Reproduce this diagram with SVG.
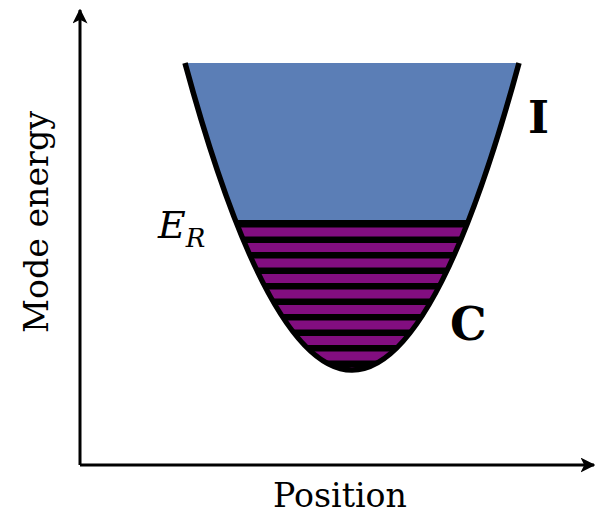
<svg xmlns="http://www.w3.org/2000/svg" width="595" height="514" viewBox="0 0 595 514">
<style>
.ax{stroke:#000;stroke-width:3;fill:none}
text{font-family:"DejaVu Serif",serif;fill:#000}
</style>
<defs>
<marker id="arr" viewBox="0 0 10 10" refX="9" refY="5" markerWidth="5" markerHeight="5" orient="auto" markerUnits="strokeWidth">
<path d="M0,0 L10,5 L0,10 L2.5,5 Z" fill="#000"/>
</marker>
<clipPath id="well"><path d="M185,63 Q352,677 519,63 Z"/></clipPath>
</defs>
<g id="connectors">
<line class="ax" x1="80" y1="465" x2="80" y2="10" marker-end="url(#arr)"/>
<line class="ax" x1="80" y1="465" x2="594" y2="465" marker-end="url(#arr)"/>
</g>
<g id="well-node">
<g clip-path="url(#well)">
<rect x="150" y="60" width="400" height="161" fill="#5b7eb6"/>
<rect x="150" y="220" width="400" height="160" fill="#000"/>
<g fill="#820e80">
<rect x="150" y="227.5" width="400" height="9"/>
<rect x="150" y="243" width="400" height="9"/>
<rect x="150" y="258.5" width="400" height="9"/>
<rect x="150" y="274" width="400" height="9"/>
<rect x="150" y="289.5" width="400" height="9"/>
<rect x="150" y="305" width="400" height="9"/>
<rect x="150" y="320.5" width="400" height="9"/>
<rect x="150" y="336" width="400" height="9"/>
<rect x="150" y="351.5" width="400" height="9"/>
<rect x="150" y="367" width="400" height="9"/>
</g>
</g>
<path d="M185,63 Q352,677 519,63" fill="none" stroke="#000" stroke-width="5.5"/>
</g>
<g id="labels">
<text x="273" y="507" font-size="33" textLength="134" lengthAdjust="spacingAndGlyphs">Position</text>
<text transform="translate(48,222) rotate(-90)" text-anchor="middle" font-size="34" textLength="222" lengthAdjust="spacingAndGlyphs">Mode energy</text>
<text x="158" y="238" font-size="38" font-style="italic">E<tspan font-size="26" dy="9">R</tspan></text>
<text x="528" y="133" font-size="45" font-weight="bold">I</text>
<text x="450" y="340" font-size="46" font-weight="bold">C</text>
</g>
</svg>
